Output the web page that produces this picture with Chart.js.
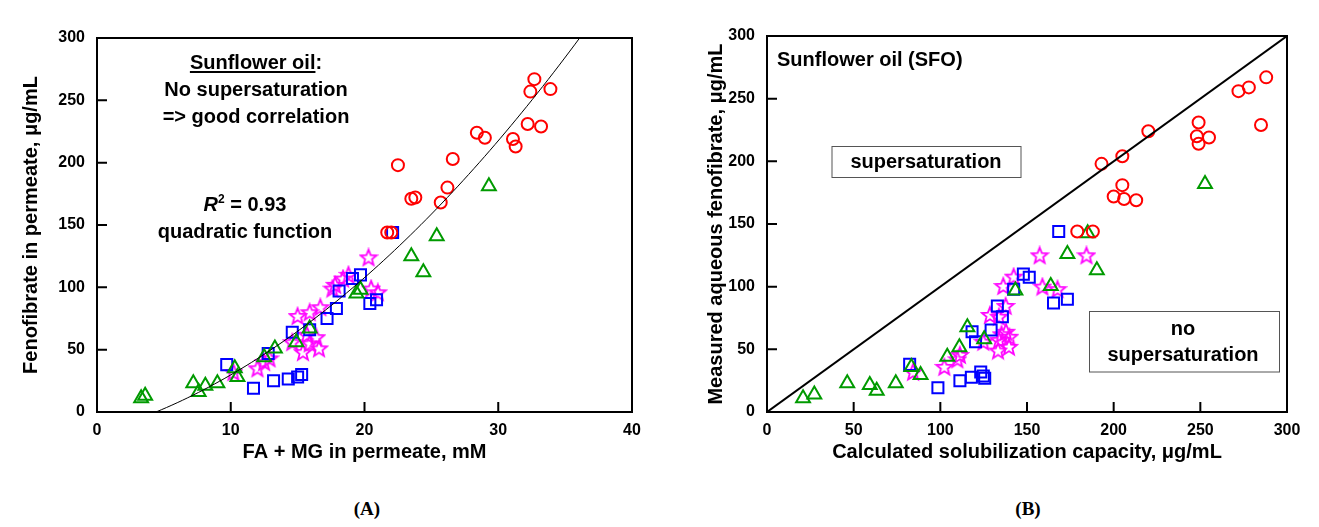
<!DOCTYPE html>
<html>
<head>
<meta charset="utf-8">
<title>Fenofibrate in sunflower oil digests</title>
<script src="https://cdn.jsdelivr.net/npm/chart.js@4.4.1/dist/chart.umd.min.js"></script>
<style>
  body { margin: 0; background: #fff; }
  .panel { position: absolute; top: 0; height: 470px; }
  .tag { position: absolute; top: 498px; width: 80px; text-align: center;
         font: bold 19px "Liberation Serif", "Times New Roman", serif; color: #000; }
</style>
</head>
<body>
<div class="panel" style="left:0;width:660px"><canvas id="chartA"></canvas></div>
<div class="panel" style="left:660px;width:659px"><canvas id="chartB"></canvas></div>
<div class="tag" style="left:327px">(A)</div>
<div class="tag" style="left:988px">(B)</div>
<script>
// ---- panel A: FA + MG in permeate (mM) vs fenofibrate in permeate ----
var circlesA = [[32.7,267],[32.4,257],[33.9,259],[32.2,231],[33.2,229],[28.4,224],[29.0,220],
  [31.1,219],[31.3,213],[22.5,198],[26.6,203],[26.2,180],[25.7,168],[23.5,171],[23.8,172],[21.7,144],[22.0,144]];
var trianglesA = [[3.3,11],[3.6,13],[7.2,23],[7.6,16],[8.1,21],[9.0,23],[10.5,28],[10.3,35],[12.5,44],
  [13.3,51],[14.9,56],[15.9,67],[19.4,95],[19.7,98],[25.4,141],[23.5,125],[24.4,112],[29.3,181]];
var squaresA = [[9.7,38],[11.7,19],[13.2,25],[14.3,26.5],[15.0,28],[15.3,30],[12.8,47],[14.6,64],[15.9,66],
  [17.2,75],[17.9,83],[18.1,97],[19.1,107],[19.7,110],[20.4,87],[20.9,90],[22.1,144]];
var starsA = [[20.3,124],[18.4,107],[18.8,110],[17.6,99],[17.8,102],[20.5,99],[21.0,96],[16.7,84],[15.9,80],
  [15.0,77],[15.7,62],[16.4,60],[14.6,56],[15.4,48],[16.6,51],[15.9,55],[12.9,43],[12.5,40],[12.0,35],[10.2,32]];
// quadratic fit y = c0 + c1*x + c2*x^2 (R^2 = 0.93)
var fitCoef = [-16.46, 3.032, 0.159];
var fitRange = [4.41, 36.1];

// ---- panel B: calculated solubilization capacity vs measured fenofibrate ----
var circlesB = [[288,267],[278,259],[272,256],[249,231],[285,229],[220,224],[248,220],[255,219],[249,214],
  [205,204],[193,198],[205,181],[200,172],[206,170],[213,169],[179,144],[188,144]];
var trianglesB = [[20.8,11],[27.3,14],[46.3,23],[59.3,21.5],[63.3,17],[74.3,23],[83.3,36],[88.6,29.5],[104,44],
  [111,51.6],[115.6,67.6],[125.3,58],[143.3,97],[163.7,100.5],[173.3,126],[190.3,113],[185,142.6],[252.7,182]];
var squaresB = [[82.3,38],[98.6,19.4],[111.3,25],[117.9,27.7],[123.3,32],[124.8,28.7],[125.6,27],[118.3,64],
  [120.3,56],[129.3,65.4],[132.9,84.6],[135.8,76],[142.3,98],[147.9,110],[151.3,107.5],[168.3,144],[165.3,87],[173.3,90]];
var starsB = [[84.3,32],[102.3,36],[109.8,42],[111.3,45.5],[124.8,56],[133.3,49],[139.6,52],[133.8,57.4],
  [137.9,64],[128.6,77.4],[133.8,76],[137.7,84.6],[136.3,100.5],[142.3,108],[157.3,125],[184.3,125],
  [158.9,100],[167.6,98],[139.8,60],[135.3,62]];
var diagonal = [[0,0],[300,300]];

var yTicks = [0, 50, 100, 150, 200, 250, 300];

var FONT = '"Liberation Sans", Arial, sans-serif';
var RED = '#ff0000', GREEN = '#009a00', BLUE = '#0000ff', MAGENTA = '#ff00ff';

function pts(list) { return list.map(function (p) { return {x: p[0], y: p[1]}; }); }

function fitPoints() {
  var out = [], n = 80;
  for (var i = 0; i <= n; i++) {
    var x = fitRange[0] + (fitRange[1] - fitRange[0]) * i / n;
    out.push({x: x, y: fitCoef[0] + fitCoef[1] * x + fitCoef[2] * x * x});
  }
  return out;
}

// hollow five-point star used as a point style
function starImage(color) {
  var c = document.createElement('canvas');
  c.width = 20; c.height = 20;
  var g = c.getContext('2d');
  g.strokeStyle = color; g.lineWidth = 1.8; g.lineJoin = 'miter';
  g.beginPath();
  for (var i = 0; i < 10; i++) {
    var r = i % 2 ? 3.6 : 8.4;
    var a = -Math.PI / 2 + i * Math.PI / 5;
    var px = 10 + r * Math.cos(a), py = 10.6 + r * Math.sin(a);
    if (i) g.lineTo(px, py); else g.moveTo(px, py);
  }
  g.closePath(); g.stroke();
  return c;
}
var starStyle = starImage(MAGENTA);

function markerSets(circles, triangles, squares, stars) {
  var base = {showLine: false, backgroundColor: 'rgba(0,0,0,0)', pointBorderWidth: 2};
  return [
    Object.assign({label: 'circles', data: pts(circles), pointStyle: 'circle', pointRadius: 6,
      borderColor: RED, pointBorderColor: RED}, base),
    Object.assign({label: 'triangles', data: pts(triangles), pointStyle: 'triangle', pointRadius: 8,
      borderColor: GREEN, pointBorderColor: GREEN}, base),
    Object.assign({label: 'squares', data: pts(squares), pointStyle: 'rect', pointRadius: 7.8,
      borderColor: BLUE, pointBorderColor: BLUE}, base),
    Object.assign({label: 'stars', data: pts(stars), pointStyle: starStyle, pointRadius: 8}, base)
  ];
}

// box around the plot area plus inward tick marks
var frame = {
  id: 'frame',
  afterDatasetsDraw: function (chart) {
    var ctx = chart.ctx, a = chart.chartArea, xs = chart.scales.x, ys = chart.scales.y;
    ctx.save();
    ctx.strokeStyle = '#000';
    ctx.lineWidth = 2;
    ctx.strokeRect(a.left, a.top, a.right - a.left, a.bottom - a.top);
    ctx.beginPath();
    xs.ticks.forEach(function (t) {
      var px = xs.getPixelForValue(t.value);
      ctx.moveTo(px, a.bottom); ctx.lineTo(px, a.bottom - 10);
    });
    ys.ticks.forEach(function (t) {
      var py = ys.getPixelForValue(t.value);
      ctx.moveTo(a.left, py); ctx.lineTo(a.left + 10, py);
    });
    ctx.stroke();
    ctx.restore();
  }
};

// free text labels; items carry canvas positions and may be boxed or underlined
var notes = {
  id: 'notes',
  afterDatasetsDraw: function (chart, args, opts) {
    var ctx = chart.ctx;
    ctx.save();
    (opts.boxes || []).forEach(function (b) {
      ctx.fillStyle = '#fff';
      ctx.fillRect(b[0], b[1], b[2] - b[0], b[3] - b[1]);
      ctx.strokeStyle = '#555';
      ctx.lineWidth = 1;
      ctx.strokeRect(b[0] + 0.5, b[1] + 0.5, b[2] - b[0], b[3] - b[1]);
    });
    ctx.fillStyle = '#000';
    ctx.textBaseline = 'alphabetic';
    (opts.items || []).forEach(function (it) {
      var parts = it.parts || [{text: it.text}];
      var size = it.size || 20;
      var widths = parts.map(function (p) {
        ctx.font = (p.italic ? 'italic ' : '') + 'bold ' + (p.sup ? Math.round(size * 0.6) : size) + 'px ' + FONT;
        return ctx.measureText(p.text).width;
      });
      var total = widths.reduce(function (s, w) { return s + w; }, 0);
      var x = it.align === 'left' ? it.x : it.x - total / 2;
      var x0 = x;
      parts.forEach(function (p, i) {
        ctx.font = (p.italic ? 'italic ' : '') + 'bold ' + (p.sup ? Math.round(size * 0.6) : size) + 'px ' + FONT;
        ctx.textAlign = 'left';
        ctx.fillText(p.text, x, it.y - (p.sup ? size * 0.4 : 0));
        x += widths[i];
      });
      if (it.underline) {
        ctx.font = 'bold ' + size + 'px ' + FONT;
        var uw = ctx.measureText(it.underline).width;
        ctx.fillRect(x0, it.y + 2, uw, 2);
      }
    });
    ctx.restore();
  }
};

function axes(xMax, xStep, xTitle, yTitle, yWidth, yTitlePad) {
  var tickFont = {family: FONT, size: 16, weight: 'bold'};
  var titleFont = {family: FONT, size: 20, weight: 'bold'};
  return {
    x: {
      type: 'linear', min: 0, max: xMax,
      ticks: {stepSize: xStep, color: '#000', font: tickFont, padding: 9},
      grid: {display: false, drawTicks: false},
      border: {display: false},
      title: {display: true, text: xTitle, color: '#000', font: titleFont, padding: {top: 0, bottom: 6}},
      afterFit: function (s) { s.height = 58; }
    },
    y: {
      type: 'linear', min: 0, max: 300,
      afterBuildTicks: function (s) { s.ticks = yTicks.map(function (v) { return {value: v}; }); },
      ticks: {color: '#000', font: tickFont, padding: 12},
      grid: {display: false, drawTicks: false},
      border: {display: false},
      title: {display: true, text: yTitle, color: '#000', font: titleFont, padding: {top: yTitlePad, bottom: 0}},
      afterFit: function (s) { s.width = yWidth; }
    }
  };
}

var common = {
  responsive: true,
  maintainAspectRatio: false,
  animation: false,
  events: []
};

var fitSet = {label: 'quadratic fit', data: fitPoints(), showLine: true, pointRadius: 0,
  borderColor: '#000', borderWidth: 1, backgroundColor: 'rgba(0,0,0,0)'};

new Chart(document.getElementById('chartA'), {
  type: 'scatter',
  data: {datasets: [fitSet].concat(markerSets(circlesA, trianglesA, squaresA, starsA))},
  options: Object.assign({}, common, {
    layout: {padding: {top: 38, right: 28, left: 0, bottom: 0}},
    scales: axes(40, 10, 'FA + MG in permeate, mM', 'Fenofibrate in permeate, \u03bcg/mL', 97, 19),
    plugins: {
      legend: {display: false},
      tooltip: {enabled: false},
      notes: {
        items: [
          {text: 'Sunflower oil:', x: 256, y: 69, underline: 'Sunflower oil'},
          {text: 'No supersaturation', x: 256, y: 96},
          {text: '=> good correlation', x: 256, y: 123},
          {parts: [{text: 'R', italic: true}, {text: '2', sup: true}, {text: ' = 0.93'}], x: 245, y: 211},
          {text: 'quadratic function', x: 245, y: 238}
        ]
      }
    }
  }),
  plugins: [frame, notes]
});

new Chart(document.getElementById('chartB'), {
  type: 'scatter',
  data: {datasets: [{label: 'y = x', data: pts(diagonal), showLine: true, pointRadius: 0,
    borderColor: '#000', borderWidth: 2, backgroundColor: 'rgba(0,0,0,0)'}]
    .concat(markerSets(circlesB, trianglesB, squaresB, starsB))},
  options: Object.assign({}, common, {
    layout: {padding: {top: 36, right: 32, left: 0, bottom: 0}},
    scales: axes(300, 50, 'Calculated solubilization capacity, \u03bcg/mL',
      'Measured aqueous fenofibrate, \u03bcg/mL', 107, 44),
    plugins: {
      legend: {display: false},
      tooltip: {enabled: false},
      notes: {
        boxes: [[171.5, 146, 360.5, 177], [429, 311, 619, 371.5]],
        items: [
          {text: 'Sunflower oil (SFO)', x: 117, y: 66, align: 'left'},
          {text: 'supersaturation', x: 266, y: 168},
          {text: 'no', x: 523, y: 335},
          {text: 'supersaturation', x: 523, y: 361}
        ]
      }
    }
  }),
  plugins: [frame, notes]
});
</script>
</body>
</html>
